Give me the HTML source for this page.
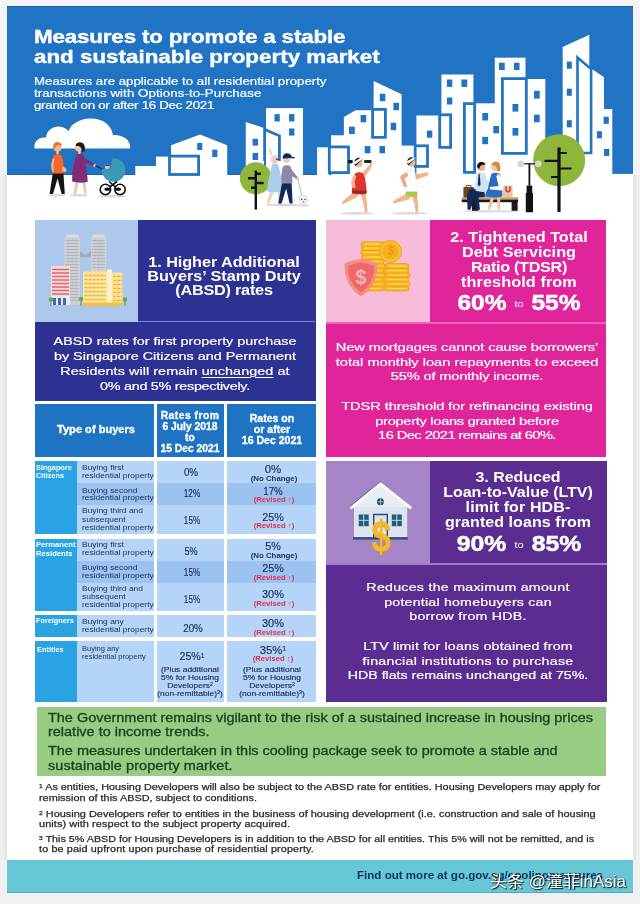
<!DOCTYPE html>
<html lang="en">
<head>
<meta charset="utf-8">
<title>Measures to promote a stable and sustainable property market</title>
<style>
html,body{margin:0;padding:0;}
body{width:640px;height:904px;overflow:hidden;background:#f0eff1;font-family:"Liberation Sans", sans-serif;}
#page{position:relative;width:640px;height:904px;overflow:hidden;background:#f0eff1;filter:blur(0.4px);}
.b{position:absolute;}
.t{position:absolute;white-space:nowrap;margin:0;}
svg{position:absolute;left:0;top:0;}

u{text-decoration-thickness:1px;text-underline-offset:1.5px;}
sup{font-size:62%;line-height:0;vertical-align:baseline;position:relative;top:-0.42em;}
.to{font-size:9.5px;font-weight:400;position:relative;top:-3px;padding:0 1px;-webkit-text-stroke:0;}
</style>
</head>
<body>
<div id="page">
<div class="b" style="left:0;top:0;width:640px;height:176px;background:#f4f3f8;"></div><div class="b" style="left:0;top:175px;width:640px;height:685px;background:linear-gradient(90deg,#eeeeee 0,#eeeeee 4px,#e2e2e2 5px,#e2e2e2 6.5px,#fff 6.6px,#fff 633.2px,#e4e4e4 633.3px,#e6e6e6 636px,#f0f0f0 637px,#f0f0f0 100%);"></div>
<div class="b" style="left:6.5px;top:6.5px;width:626.7px;height:886px;background:#fff;"></div>
<header>
<div class="b" style="left:6.5px;top:6.4px;width:626.7px;height:168.8px;background:#2173c3;box-shadow:inset 0 1px 0 rgba(20,60,110,.45), inset 0 -1px 0 rgba(20,70,130,.35);"></div>
<svg width="640" height="904" viewBox="0 0 640 904" aria-hidden="true">
<g id="skyline" fill="#fff" stroke="none">
<path d="M34.6 148.5 C33.2 142.5 38 136.6 46 137.6 C46.6 130.5 52.5 126.3 59 126.4 C63 126.5 66.6 128.4 68.6 131.2 C71 124 79.5 118.8 90.5 118.6 C102.5 118.4 111.5 125 113 135.2 C116 134.6 119.5 135.4 122.5 136.8 C127.5 138.6 130.6 143 130.1 148.5 Z"/>
<rect x="135.30" y="166.00" width="21.20" height="9.20"/>
<rect x="156.00" y="156.60" width="15.50" height="18.60"/>
<path d="M171 175.2 V145.3 L200 134.6 L227.2 145.3 V175.2 Z"/>
<rect x="169.50" y="156.10" width="29.10" height="18.40" fill="#fff" stroke="#2173c3" stroke-width="2.80"/>
<rect x="197.20" y="142.90" width="5.05" height="7.10" fill="#2173c3"/>
<rect x="212.20" y="149.60" width="5.20" height="7.40" fill="#2173c3"/>
<rect x="266.00" y="108.10" width="37.00" height="67.10"/>
<path d="M245.75 175.2 V121.9 L264 128 V175.2 Z"/>
<path d="M264.6 161 V129.4 L279.4 135.8 V161" fill="#fff" stroke="#2173c3" stroke-width="2.8" stroke-linejoin="miter"/>
<rect x="274.50" y="114.10" width="5.25" height="7.40" fill="#2173c3"/>
<rect x="289.10" y="114.10" width="5.30" height="7.40" fill="#2173c3"/>
<rect x="289.10" y="128.50" width="5.30" height="7.10" fill="#2173c3"/>
<rect x="252.60" y="138.75" width="5.50" height="6.85" fill="#2173c3"/>
<rect x="252.60" y="152.90" width="5.50" height="7.10" fill="#2173c3"/>
<rect x="317.10" y="147.30" width="11.90" height="27.90"/>
<rect x="331.00" y="135.30" width="13.50" height="39.90"/>
<path d="M343.9 175.2 V116.9 L355.6 110.3 H374 V175.2 Z"/>
<path d="M373.6 175.2 V81 L401.6 94.2 V175.2 Z"/>
<rect x="329.30" y="146.90" width="19.20" height="25.70" fill="#fff" stroke="#2173c3" stroke-width="2.80"/>
<rect x="372.60" y="109.40" width="12.80" height="27.95" fill="#fff" stroke="#2173c3" stroke-width="2.80"/>
<rect x="379.80" y="93.75" width="5.50" height="7.50" fill="#2173c3"/>
<rect x="393.40" y="102.80" width="5.60" height="7.40" fill="#2173c3"/>
<rect x="360.60" y="115.00" width="5.60" height="7.30" fill="#2173c3"/>
<rect x="349.00" y="126.60" width="5.80" height="7.40" fill="#2173c3"/>
<rect x="390.75" y="122.70" width="5.45" height="7.50" fill="#2173c3"/>
<rect x="364.70" y="146.10" width="5.70" height="7.20" fill="#2173c3"/>
<rect x="379.50" y="146.10" width="5.50" height="7.20" fill="#2173c3"/>
<rect x="400.60" y="145.60" width="14.40" height="29.60"/>
<rect x="416.40" y="115.50" width="25.60" height="59.70"/>
<rect x="441.40" y="74.50" width="32.00" height="100.70"/>
<rect x="415.15" y="145.80" width="12.35" height="20.60" fill="#fff" stroke="#2173c3" stroke-width="2.80"/>
<rect x="439.70" y="114.80" width="10.90" height="32.55" fill="#fff" stroke="#2173c3" stroke-width="2.80"/>
<rect x="446.90" y="79.50" width="5.40" height="7.40" fill="#2173c3"/>
<rect x="461.40" y="79.50" width="5.80" height="7.40" fill="#2173c3"/>
<rect x="446.90" y="97.50" width="5.40" height="7.00" fill="#2173c3"/>
<rect x="426.90" y="130.60" width="5.40" height="7.10" fill="#2173c3"/>
<rect x="473.00" y="103.30" width="22.50" height="71.90"/>
<rect x="494.80" y="57.70" width="30.70" height="117.50"/>
<rect x="525.00" y="79.00" width="20.30" height="96.20"/>
<rect x="464.40" y="103.60" width="10.20" height="68.75" fill="#fff" stroke="#2173c3" stroke-width="2.80"/>
<rect x="502.40" y="78.60" width="23.90" height="74.80" fill="#fff" stroke="#2173c3" stroke-width="2.80"/>
<rect x="499.00" y="62.70" width="5.70" height="7.30" fill="#2173c3"/>
<rect x="514.00" y="62.70" width="5.50" height="7.30" fill="#2173c3"/>
<rect x="512.50" y="104.00" width="5.80" height="7.60" fill="#2173c3"/>
<rect x="512.50" y="128.00" width="5.80" height="7.60" fill="#2173c3"/>
<rect x="534.00" y="90.80" width="5.70" height="7.80" fill="#2173c3"/>
<rect x="534.00" y="114.70" width="5.70" height="7.60" fill="#2173c3"/>
<rect x="482.30" y="113.00" width="5.80" height="7.50" fill="#2173c3"/>
<rect x="493.30" y="126.00" width="5.70" height="7.30" fill="#2173c3"/>
<rect x="482.30" y="136.90" width="5.80" height="7.30" fill="#2173c3"/>
<path d="M562.7 175.2 V47.1 L589.3 34.7 V175.2 Z"/>
<path d="M589 175.2 V67 L604 77.2 V175.2 Z"/>
<rect x="603.50" y="109.00" width="8.80" height="66.20"/>
<path d="M577.5 154.5 V57.5 L591.1 69 V153 H583" fill="none" stroke="#2173c3" stroke-width="2.6" stroke-linejoin="miter"/>
<rect x="566.80" y="61.60" width="5.00" height="7.10" fill="#2173c3"/>
<rect x="566.80" y="88.70" width="5.00" height="7.10" fill="#2173c3"/>
<rect x="566.80" y="120.20" width="5.00" height="7.10" fill="#2173c3"/>
<rect x="603.60" y="116.70" width="5.20" height="7.10" fill="#2173c3"/>
<rect x="596.90" y="131.20" width="5.00" height="7.10" fill="#2173c3"/>
<rect x="604.00" y="148.90" width="5.30" height="7.10" fill="#2173c3"/>
<rect x="612" y="173.9" width="21.3" height="1.5" fill="#fff"/>
</g>
<!-- ============ shadows ============ -->
<g fill="#d9d9dc">
  <ellipse cx="57" cy="195.3" rx="9" ry="1.3"/><ellipse cx="79" cy="195.3" rx="9" ry="1.3"/><ellipse cx="112" cy="196.3" rx="14" ry="1.2"/>
  <ellipse cx="283" cy="205" rx="17" ry="1.3"/><ellipse cx="304" cy="205.5" rx="6" ry="1"/>
  <ellipse cx="357" cy="213.4" rx="17" ry="1.3"/><ellipse cx="410" cy="213.4" rx="18" ry="1.3"/>
  <ellipse cx="490" cy="211.3" rx="28" ry="1.2" fill="#ead9dc"/>
</g>
<!-- ============ trees ============ -->
<g>
  <circle cx="255.8" cy="178.3" r="16" fill="#8db63a"/>
  <path d="M255.8 170.5 V209.5 M255.8 173.8 H260.8 M248 178.3 H255.8 M255.8 183 H263.6 M251 187.7 H255.8" stroke="#111" stroke-width="2.4" fill="none"/>
  <circle cx="559.2" cy="160.2" r="26" fill="#8db63a"/>
  <path d="M559 147.5 V212" stroke="#111" stroke-width="3.2" fill="none"/>
  <path d="M559 153 H566.8 M544.5 160.8 H559 M559 168.5 H571.5 M551 177 H559" stroke="#111" stroke-width="2.2" fill="none"/>
</g>
<!-- ============ family with pram ============ -->
<g>
  <!-- man -->
  <path d="M52.8 173 L49.6 194 H53 L57.6 178.5 L61.6 194 H64.8 L63.4 173 Z" fill="#141414"/>
  <path d="M53.2 156.5 C54.5 153.6 60.5 153.6 62 156 C63.4 161 64 168 63.6 173.6 H52.4 C51.8 168 52 161 53.2 156.5 Z" fill="#f2672a"/>
  <path d="M53 158 C50.8 163 50.6 168 52.6 172.5 L54 171.5 C53 167.5 53.4 163 54.6 159.5 Z" fill="#f3b78c"/>
  <path d="M62.8 166 L66.8 169.5 L65.6 172.2 L62.2 171 Z" fill="#f3b78c"/>
  <circle cx="57.6" cy="147.6" r="4.1" fill="#f3b78c"/>
  <path d="M53.2 147.6 C52.6 143.6 55.6 141.6 58.4 142.2 C60.8 142.6 62 144.2 61.6 145.6 C59.6 145 57 145.2 55.8 146.6 C55 148 54.6 149 53.8 149.4 Z" fill="#e07a28"/>
  <rect x="56.2" y="151" width="2.6" height="3.2" fill="#f3b78c"/>
  <!-- woman -->
  <path d="M75.4 181 L73.6 194.2 H76 L78.6 182 Z M82.2 181 L84.4 194.2 H86.6 L85.4 181 Z" fill="#f3c6a2"/>
  <path d="M77.2 153.8 C79 152.4 81.6 152.6 82.8 154.2 C85.2 159 87.2 172 87.8 181.8 C83 183 77 183 72.2 181.6 C72 176 72.4 170 73.6 165.5 C74.4 161.4 75.6 156.6 77.2 153.8 Z" fill="#822c78"/>
  <path d="M83 157 L92.8 163 L95.4 165 L94.4 166.6 L84.4 162.4 Z" fill="#822c78"/>
  <circle cx="94.8" cy="165.6" r="1.5" fill="#f3c6a2"/>
  <circle cx="79" cy="147.6" r="4" fill="#f3c6a2"/>
  <path d="M75.6 146 C75.6 142.6 79.6 141.4 82.4 143 C85 144.4 85.4 148 84.6 151.6 L81.6 151.4 C82 149 81 146.6 78.4 146 C77.4 145.8 76.4 146 75.6 146 Z" fill="#1a1a1a"/>
  <rect x="78.2" y="151" width="2.4" height="3" fill="#f3c6a2"/>
  <!-- pram -->
  <path d="M95.4 165.6 L102.4 169.4" stroke="#1b2a5c" stroke-width="1.6" fill="none"/>
  <circle cx="107.4" cy="167" r="2.4" fill="#f3c6a2"/>
  <path d="M105.2 166 C106 164.2 108.8 164.2 109.6 166 Z" fill="#1b2a5c"/>
  <path d="M112.4 158.2 A11.8 11.8 0 1 1 101.8 169.2 L110.4 168.4 Z" fill="#3a9ab4"/>
  <path d="M109 181.5 L118.5 189.5 M117 181.5 L106.5 189.5" stroke="#111" stroke-width="1.6" fill="none"/>
  <circle cx="105.4" cy="189.4" r="5.2" fill="#fff" stroke="#111" stroke-width="1.6"/>
  <circle cx="120" cy="189.4" r="5.2" fill="#fff" stroke="#111" stroke-width="1.6"/>
  <ellipse cx="107.4" cy="189.2" rx="3" ry="1.6" fill="#111"/><ellipse cx="118" cy="189.2" rx="3" ry="1.6" fill="#111"/>
</g>
<!-- ============ elderly couple + dog ============ -->
<g>
  <!-- woman -->
  <path d="M270.4 190 L266.4 204.4 H269 L274 191.5 Z M277.6 190.5 L278.8 204.4 H281 L281 190.5 Z" fill="#ecd2c2"/>
  <path d="M272.4 164.4 C274.4 163 276.8 163.2 278.2 165 C280.4 171 282 183 282.4 191.4 C277.6 192.8 271.4 192.6 266.8 191 C268 182.5 269.8 171.5 272.4 164.4 Z" fill="#a9cdea"/>
  <circle cx="274.6" cy="159.6" r="3.7" fill="#efc9ad"/>
  <path d="M271 160.5 C270 156.4 273 154.4 276 155.2 C278 155.8 278.6 157 278.4 158 C276.6 157.6 274.4 158 273.4 159.4 Z" fill="#dcdde6"/>
  <path d="M276 158.6 H279.4 V160 H276 Z" fill="#b3273a"/>
  <path d="M270.6 155 L268.8 148.6 L270.2 148.2 L272.4 154.6 Z" fill="#efc9ad"/>
  <!-- man -->
  <path d="M282.2 182 L278.2 203.6 H281.6 L286.2 188.6 L289.6 203.6 H292.6 L291.6 182 Z" fill="#15285a"/>
  <path d="M283 166.6 C285 164.6 289.6 164.8 291 167 C292.4 172 292.6 178.4 292.2 183.4 H281.4 C280.8 178 281.4 171.4 283 166.6 Z" fill="#8b88a8"/>
  <path d="M290.6 168.6 L298 177.6 L296.8 179.2 L289.8 174.6 Z" fill="#8b88a8"/>
  <circle cx="297.8" cy="178.8" r="1.4" fill="#efc9ad"/>
  <circle cx="286.6" cy="159" r="3.8" fill="#efc9ad"/>
  <path d="M282.6 158.4 C282.4 154.6 285.6 152.8 288.4 153.4 C290.6 153.8 291.6 155.4 291.6 156.8 L294.8 157.2 V158.2 L282.6 158.4 Z" fill="#15285a"/>
  <path d="M288 158.4 H291.6 V160 H288 Z" fill="#dfe2ea"/>
  <!-- leash and dog -->
  <path d="M297.8 179.6 L302 196.4" stroke="#9a9aa6" stroke-width="0.7" fill="none"/>
  <path d="M299.6 196.4 C301 194.6 305.6 194.4 307 196.6 C308 199.6 307 202.6 305.6 204 H300.8 C299 202.6 298.6 199 299.6 196.4 Z" fill="#f1f1f4" stroke="#c9c9d0" stroke-width="0.5"/>
  <circle cx="301.6" cy="199.4" r="0.7" fill="#222"/><circle cx="305" cy="199.4" r="0.7" fill="#222"/>
  <path d="M302.4 201.4 H304.4 L303.4 202.6 Z" fill="#222"/>
</g>
<!-- ============ runners ============ -->
<g>
  <!-- woman runner -->
  <path d="M355 191 L343.6 200.4 L341.8 203.2 L343.4 204 L356.6 197.4 L361 192 Z" fill="#f0b58c"/>
  <path d="M360 191.6 L363.6 204 L365 212.6 H367.6 L367 203 L365.6 191 Z" fill="#f0b58c"/>
  <path d="M354.6 174 C357 171.6 362.6 171.8 364.2 174.4 C365.6 180 366.4 187 366.6 192.4 C362.4 193.4 356.4 193.2 351.8 192 C352 186 353 179 354.6 174 Z" fill="#e4322c"/>
  <path d="M352.2 190.4 H366.6 V193.4 C362 194.6 356.4 194.4 352 193.4 Z" fill="#a3222a"/>
  <path d="M354.4 174.4 C351.4 178 350.2 183 352.4 187.6 L354.8 188.2 L355.6 186.6 C354 183 354.6 179.4 356.6 176.4 Z" fill="#f0b58c"/>
  <path d="M362.6 172.6 L368.6 166 L370.6 162.6 L372.4 163.6 L371 168 L365 176.6 Z" fill="#f0b58c"/>
  <circle cx="358.6" cy="163" r="4" fill="#f0b58c"/>
  <path d="M354.4 164.4 C353.6 160 356.4 157.4 359.6 157.8 C361 158 362 158.6 362.4 159.4 L355.6 166 Z" fill="#151515"/>
  <path d="M353.4 162.2 L361 157.6 L362.2 159.4 L355 164.6 Z" fill="#fff"/>
  <ellipse cx="350.4" cy="161.6" rx="2.6" ry="1.9" fill="#151515"/>
  <rect x="364" y="160" width="7.6" height="3" rx="1.2" fill="#22232b"/>
  <!-- man runner -->
  <path d="M407 193.6 L394.6 200 L392.6 202.6 L394 203.6 L408.6 199.6 L413 195 Z" fill="#f0b58c"/>
  <path d="M411.4 195 L414.6 204 L415.6 212.6 H418.2 L418 203 L417 194.6 Z" fill="#f0b58c"/>
  <path d="M405.6 193 L406.2 191 H417.2 L417.4 196.2 C413.6 197 409 196.6 405.6 195.6 Z" fill="#a9c63c"/>
  <path d="M406.6 171.6 C409 169.6 413.6 169.8 415 172 C416.4 178 417.2 185 417.4 191.4 H406 C405.6 185 405.8 177 406.6 171.6 Z" fill="#fdfdfd" stroke="#e6e6ea" stroke-width="0.5"/>
  <path d="M406.8 172 L401 175.6 L400.2 177.6 L403.8 186.6 L406.2 187.4 L407 185.4 L404.4 178.4 L408.2 176 Z" fill="#e9a983"/>
  <path d="M415 174.6 L426.6 172.2 L428.4 173.2 L427.6 175.4 L416 179.6 Z" fill="#f0b58c"/>
  <circle cx="411.4" cy="162.4" r="4" fill="#f0b58c"/>
  <path d="M407.2 163.8 C406.4 159.4 409.2 156.8 412.4 157.2 C413.8 157.4 414.8 158 415.2 158.8 L408.4 165.4 Z" fill="#151515"/>
  <path d="M406.6 161.6 L414 157 L415.2 158.8 L408 164 Z" fill="#fff"/>
</g>
<!-- ============ bench couple + lamp ============ -->
<g>
  <rect x="461.7" y="197.2" width="56.4" height="2.6" fill="#c9a15f"/>
  <rect x="461.7" y="199.6" width="56.4" height="2.6" fill="#1d1a18"/>
  <rect x="472" y="202" width="6.6" height="8.8" fill="#1d1a18"/>
  <rect x="511.6" y="202" width="6" height="8.8" fill="#1d1a18"/>
  <!-- briefcase -->
  <rect x="463.4" y="187" width="10.4" height="10.4" rx="0.8" fill="#6b4a1c"/>
  <path d="M466.4 187 V185.4 H471 V187" stroke="#6b4a1c" stroke-width="0.9" fill="none"/>
  <!-- bag -->
  <path d="M503.4 185.4 H512.6 V197.2 H503 Z" fill="#e9c8a0"/>
  <path d="M506 186.6 V189.6 C506 192.4 510 192.4 510 189.6 V186.6" stroke="#d13a2c" stroke-width="1.5" fill="none"/>
  <!-- man -->
  <path d="M468.4 190.4 C472 188 480 188.6 484.4 190.6 L485 197 L478.6 197.6 L480 209.8 H476.4 L474 199.6 L470.4 209.8 H467.6 L467 196 Z" fill="#15285a"/>
  <path d="M477 173.6 C479.4 171.8 484.4 172 485.8 174.4 C487 180 487 186.4 486.4 191.6 C483 192.4 478.4 192 475.4 190.6 C475.2 184.6 475.8 178 477 173.6 Z" fill="#cfe2f4"/>
  <path d="M479.6 173.6 L480.6 184.6 L479 186.6 L477.8 184.4 L478.6 174 Z" fill="#15285a"/>
  <path d="M485 176 L491 186.6 L489.4 188.2 L483.4 182 Z" fill="#cfe2f4"/>
  <circle cx="481.4" cy="167" r="3.9" fill="#e9b18a"/>
  <path d="M477.2 167.6 C476.4 163.4 479.6 161.4 482.6 162 C484.6 162.4 485.6 163.8 485.4 165 C483.4 164.6 481 165 480 166.6 L479.2 169 Z" fill="#151515"/>
  <!-- woman -->
  <path d="M491 196.4 L487.6 209.4 H490 L494.6 197 Z M497 197 L497.6 209.4 H500 L500.4 196.6 Z" fill="#f0c4a4"/>
  <path d="M491.4 174 C493.6 172.2 498.4 172.4 500 174.6 C502 181 502.6 190 502.4 196.6 C497.6 198 490 197.8 485 196.4 C485.4 193.4 486.4 190.6 488 188.4 C489 183 490 178 491.4 174 Z" fill="#2a6cc2"/>
  <path d="M497.6 174 C500.4 175 501.6 178 502 182 L502.4 190.6 L490 189.4 L489.8 187 L498.6 186 L496.4 176.6 Z" fill="#fdfdfd"/>
  <circle cx="495" cy="167" r="3.9" fill="#f0c4a4"/>
  <path d="M491.6 165 C492 161.6 495.6 160.6 498 162 C500.4 163.4 500.8 167 500 171.4 L497 171 C497.4 168.4 496.6 166 494.2 165.4 C493.2 165.2 492.4 165.2 491.6 165 Z" fill="#d88a3c"/>
  <!-- lamp -->
  <path d="M521 163.8 H538.4" stroke="#111" stroke-width="1.2" fill="none"/>
  <rect x="528.5" y="163.5" width="1.8" height="22" fill="#111"/>
  <path d="M526.6 185.4 H532.2 V193 H533 V212.2 H525.8 V193 H526.6 Z" fill="#111"/>
  <circle cx="521" cy="163.8" r="3.4" fill="#d4d6d8"/>
  <circle cx="538.3" cy="163.8" r="3.4" fill="#d4d6d8"/>
</g>

</svg>
<h1 class="t" style="left:34.00px;top:27.20px;font-size:18.6px;line-height:20.3px;color:#fff;transform:scaleX(1.2034);transform-origin:0 0;font-weight:700;-webkit-text-stroke:0.4px #fff;"><span style="letter-spacing:-0.135px">Measures to promote a stable</span><br>and sustainable property market</h1>
<p class="t" style="left:34.00px;top:74.67px;font-size:11.2px;line-height:12.1px;color:#fff;transform:scaleX(1.1847);transform-origin:0 0;-webkit-text-stroke:0.2px #fff;">Measures are applicable to all residential property<br><span style="letter-spacing:0.081px">transactions with Options-to-Purchase</span><br><span style="letter-spacing:-0.215px">granted on or after 16 Dec 2021</span></p>
</header>
<main>
<section class="absd">
<div class="b" style="left:34.5px;top:220.4px;width:281px;height:181px;background:#2c3192;"></div>
<div class="b" style="left:34.5px;top:220.4px;width:103.2px;height:101.6px;background:#acc8eb;"></div>
<div class="b" style="left:137.7px;top:321.1px;width:177.8px;height:1.1px;background:#7c83de;"></div>
<svg width="640" height="904" viewBox="0 0 640 904" aria-hidden="true">
<!-- ============ panel 1 icon: buildings ============ -->
<g>
  <!-- grey twin towers -->
  <rect x="64.5" y="237" width="15.5" height="68" fill="#cfd1d8"/>
  <rect x="66" y="234.5" width="12.5" height="3" fill="#d9dbe0"/>
  <rect x="91" y="237" width="15" height="40" fill="#cfd1d8"/>
  <rect x="92.5" y="234.5" width="12" height="3" fill="#d9dbe0"/>
  <path d="M80 251 L85.5 255 L91 251 V257 H80 Z" fill="#a6a9b2"/>
  <g stroke="#9a9eaa" stroke-width="0.6" fill="none">
    <path d="M65.5 240.5H79M65.5 243.5H79M65.5 246.5H79M65.5 249.5H79M65.5 252.5H79M65.5 255.5H79M65.5 258.5H79M65.5 261.5H79M65.5 264.5H79M70 267.5H79M70 270.5H79M70 273.5H79M70 276.5H79M70 279.5H79M70 282.5H79M70 285.5H79M70 288.5H79M70 291.5H79M70 294.5H79M70 297.5H79M70 300.5H79"/>
    <path d="M92 240.5H105M92 243.5H105M92 246.5H105M92 249.5H105M92 252.5H105M92 255.5H105M92 258.5H105M92 261.5H105M92 264.5H105M92 267.5H105"/>
  </g>
  <g stroke="#b4b7c0" stroke-width="0.5" fill="none"><path d="M68.5 238V305M72.3 238V305M76.100 238V305M95 238V272M98.500 238V272M102 238V272"/></g>
  <!-- pink building -->
  <rect x="51" y="266" width="19" height="34" fill="#f6dadb"/>
  <g stroke="#e06670" stroke-width="1.3" fill="none">
    <path d="M52 269.5H69M52 273H69M52 276.5H69M52 280H69M52 283.5H69M52 287H69M52 290.5H69M52 294H69"/>
  </g>
  <rect x="51" y="296.5" width="19" height="8.5" fill="#e9edf3"/>
  <rect x="53" y="298" width="3" height="7" fill="#3a6bb0"/><rect x="58" y="298" width="3" height="7" fill="#3a6bb0"/><rect x="63" y="298" width="3" height="7" fill="#3a6bb0"/>
  <!-- yellow building -->
  <rect x="83" y="271.5" width="24" height="34.5" fill="#fbe49a"/>
  <rect x="107" y="269.5" width="5" height="36.5" fill="#fbf1cf"/>
  <rect x="112" y="272.5" width="10.5" height="33.5" fill="#fbe49a"/>
  <g stroke="#efb73a" stroke-width="1.3" fill="none" stroke-dasharray="3.2 0.8">
    <path d="M84.5 275.5H106M84.5 279.5H106M84.5 283.5H106M84.5 287.5H106M84.5 291.5H106M84.5 295.5H106M84.5 299.5H106"/>
    <path d="M113 276.5H122M113 280.5H122M113 284.5H122M113 288.5H122M113 292.5H122M113 296.5H122M113 300.5H122"/>
  </g>
  <g stroke="#fdf3cf" stroke-width="0.5" fill="none">
    <path d="M84.5 277.5H106M84.5 281.5H106M84.5 285.5H106M84.5 289.5H106M84.5 293.5H106M84.5 297.5H106"/>
  </g>
  <rect x="83" y="302.5" width="39.5" height="3.5" fill="#f3c145"/>
  <!-- trees -->
  <g fill="#5fb04a">
    <circle cx="51" cy="299.5" r="2.3"/><circle cx="81" cy="299" r="2.3"/><circle cx="125" cy="299.5" r="2.3"/>
  </g>
  <g stroke="#7a5a2a" stroke-width="0.7"><path d="M51 301V306M81 301V306M125 301V306"/></g>
</g>
</svg>
<h2 class="t" style="left:224.30px;top:254.55px;font-size:15px;line-height:14.3px;text-align:center;color:#fff;transform:translateX(-50%) scaleX(1.0838);transform-origin:50% 0;font-weight:700;"><span style="letter-spacing:-0.076px">1. Higher Additional</span><br>Buyers’ Stamp Duty<br><span style="letter-spacing:-0.222px">(ABSD) rates</span></h2>
<p class="t" style="left:174.90px;top:334.40px;font-size:11.4px;line-height:14.7px;text-align:center;color:#fff;transform:translateX(-50%) scaleX(1.2621);transform-origin:50% 0;-webkit-text-stroke:0.2px #fff;">ABSD rates for first property purchase<br>by Singapore Citizens and Permanent<br><span style="letter-spacing:0.054px">Residents will remain <u>unchanged</u> at</span><br><span style="letter-spacing:-0.226px">0% and 5% respectively.</span></p>
<div class="rates">
<div class="b" style="left:34.5px;top:403.8px;width:119.5px;height:52.9px;background:#1e73c3;"></div>
<div class="b" style="left:157.3px;top:403.8px;width:66.6px;height:52.9px;background:#1e73c3;"></div>
<div class="b" style="left:226.8px;top:403.8px;width:88.8px;height:52.9px;background:#1e73c3;"></div>
<div class="b" style="left:34.5px;top:461.2px;width:42px;height:72.5px;background:#29a3e1;"></div>
<div class="b" style="left:76.5px;top:461.2px;width:77.5px;height:72.5px;background:#b4d5f8;"></div>
<div class="b" style="left:76.5px;top:483px;width:77.5px;height:22.3px;background:#9cc3f0;"></div>
<div class="b" style="left:157.3px;top:461.2px;width:66.6px;height:72.5px;background:#b4d5f8;"></div>
<div class="b" style="left:157.3px;top:483px;width:66.6px;height:22.3px;background:#9cc3f0;"></div>
<div class="b" style="left:226.8px;top:461.2px;width:88.8px;height:72.5px;background:#b4d5f8;"></div>
<div class="b" style="left:226.8px;top:483px;width:88.8px;height:22.3px;background:#9cc3f0;"></div>
<div class="b" style="left:34.5px;top:538.6px;width:42px;height:72.9px;background:#29a3e1;"></div>
<div class="b" style="left:76.5px;top:538.6px;width:77.5px;height:72.9px;background:#b4d5f8;"></div>
<div class="b" style="left:76.5px;top:560.5px;width:77.5px;height:22px;background:#9cc3f0;"></div>
<div class="b" style="left:157.3px;top:538.6px;width:66.6px;height:72.9px;background:#b4d5f8;"></div>
<div class="b" style="left:157.3px;top:560.5px;width:66.6px;height:22px;background:#9cc3f0;"></div>
<div class="b" style="left:226.8px;top:538.6px;width:88.8px;height:72.9px;background:#b4d5f8;"></div>
<div class="b" style="left:226.8px;top:560.5px;width:88.8px;height:22px;background:#9cc3f0;"></div>
<div class="b" style="left:34.5px;top:615.3px;width:42px;height:21.5px;background:#29a3e1;"></div>
<div class="b" style="left:76.5px;top:615.3px;width:77.5px;height:21.5px;background:#b4d5f8;"></div>
<div class="b" style="left:157.3px;top:615.3px;width:66.6px;height:21.5px;background:#b4d5f8;"></div>
<div class="b" style="left:226.8px;top:615.3px;width:88.8px;height:21.5px;background:#b4d5f8;"></div>
<div class="b" style="left:34.5px;top:641px;width:42px;height:61.3px;background:#29a3e1;"></div>
<div class="b" style="left:76.5px;top:641px;width:77.5px;height:61.3px;background:#b4d5f8;"></div>
<div class="b" style="left:157.3px;top:641px;width:66.6px;height:61.3px;background:#b4d5f8;"></div>
<div class="b" style="left:226.8px;top:641px;width:88.8px;height:61.3px;background:#b4d5f8;"></div>
<div class="t" style="left:96.00px;top:423.83px;font-size:10px;line-height:12px;text-align:center;color:#fff;transform:translateX(-50%) scaleX(1.1081);transform-origin:50% 0;font-weight:700;-webkit-text-stroke:0.3px #fff;">Type of buyers</div>
<div class="t" style="left:190.40px;top:409.81px;font-size:10px;line-height:11.05px;text-align:center;color:#fff;transform:translateX(-50%) scaleX(1.0300);transform-origin:50% 0;font-weight:700;-webkit-text-stroke:0.3px #fff;"><span style="letter-spacing:0.474px">Rates from</span><br>6 July 2018<br>to<br>15 Dec 2021</div>
<div class="t" style="left:272.00px;top:413.78px;font-size:10px;line-height:10.9px;text-align:center;color:#fff;transform:translateX(-50%) scaleX(1.0527);transform-origin:50% 0;font-weight:700;-webkit-text-stroke:0.3px #fff;">Rates on<br>or after<br>16 Dec 2021</div>
<div class="t" style="left:36.25px;top:463.92px;font-size:7.6px;line-height:8.1px;color:#fff;transform:scaleX(0.9626);transform-origin:0 0;font-weight:700;">Singapore<br>Citizens</div>
<div class="t" style="left:35.50px;top:541.37px;font-size:7.6px;line-height:8.2px;color:#fff;transform:scaleX(1.0064);transform-origin:0 0;font-weight:700;">Permanent<br>Residents</div>
<div class="t" style="left:36.00px;top:616.87px;font-size:7.6px;line-height:8.2px;color:#fff;transform:scaleX(0.9618);transform-origin:0 0;font-weight:700;">Foreigners</div>
<div class="t" style="left:36.50px;top:645.62px;font-size:7.6px;line-height:8.2px;color:#fff;transform:scaleX(0.9749);transform-origin:0 0;font-weight:700;">Entities</div>
<div class="t" style="left:82.00px;top:463.78px;font-size:7.7px;line-height:7.9px;color:#1b2a5c;transform:scaleX(1.0973);transform-origin:0 0;">Buying first<br>residential property</div>
<div class="t" style="left:82.00px;top:486.58px;font-size:7.7px;line-height:7.9px;color:#1b2a5c;transform:scaleX(1.0973);transform-origin:0 0;">Buying second<br>residential property</div>
<div class="t" style="left:82.00px;top:507.36px;font-size:7.7px;line-height:8.15px;color:#1b2a5c;transform:scaleX(1.0973);transform-origin:0 0;">Buying third and<br>subsequent<br>residential property</div>
<div class="t" style="left:82.00px;top:541.48px;font-size:7.7px;line-height:7.9px;color:#1b2a5c;transform:scaleX(1.0973);transform-origin:0 0;">Buying first<br>residential property</div>
<div class="t" style="left:82.00px;top:563.93px;font-size:7.7px;line-height:8.0px;color:#1b2a5c;transform:scaleX(1.0973);transform-origin:0 0;">Buying second<br>residential property</div>
<div class="t" style="left:82.00px;top:584.93px;font-size:7.7px;line-height:8.0px;color:#1b2a5c;transform:scaleX(1.0973);transform-origin:0 0;">Buying third and<br>subsequent<br>residential property</div>
<div class="t" style="left:82.00px;top:617.68px;font-size:7.7px;line-height:8.0px;color:#1b2a5c;transform:scaleX(1.0973);transform-origin:0 0;">Buying any<br>residential property</div>
<div class="t" style="left:82.00px;top:644.85px;font-size:7.2px;line-height:8.0px;color:#1b2a5c;transform:scaleX(1.0427);transform-origin:0 0;">Buying any<br>residential property</div>
<div class="t" style="left:191.30px;top:466.42px;font-size:10.6px;line-height:13px;text-align:center;color:#1b2a5c;transform:translateX(-50%) scaleX(0.9273);transform-origin:50% 0;-webkit-text-stroke:0.15px #1b2a5c;">0%</div>
<div class="t" style="left:191.80px;top:487.02px;font-size:10.6px;line-height:13px;text-align:center;color:#1b2a5c;transform:translateX(-50%) scaleX(0.7782);transform-origin:50% 0;-webkit-text-stroke:0.15px #1b2a5c;">12%</div>
<div class="t" style="left:191.60px;top:514.42px;font-size:10.6px;line-height:13px;text-align:center;color:#1b2a5c;transform:translateX(-50%) scaleX(0.7688);transform-origin:50% 0;-webkit-text-stroke:0.15px #1b2a5c;">15%</div>
<div class="t" style="left:191.30px;top:544.72px;font-size:10.6px;line-height:13px;text-align:center;color:#1b2a5c;transform:translateX(-50%) scaleX(0.8620);transform-origin:50% 0;-webkit-text-stroke:0.15px #1b2a5c;">5%</div>
<div class="t" style="left:191.60px;top:566.42px;font-size:10.6px;line-height:13px;text-align:center;color:#1b2a5c;transform:translateX(-50%) scaleX(0.7688);transform-origin:50% 0;-webkit-text-stroke:0.15px #1b2a5c;">15%</div>
<div class="t" style="left:191.60px;top:592.72px;font-size:10.6px;line-height:13px;text-align:center;color:#1b2a5c;transform:translateX(-50%) scaleX(0.7688);transform-origin:50% 0;-webkit-text-stroke:0.15px #1b2a5c;">15%</div>
<div class="t" style="left:192.80px;top:621.62px;font-size:10.6px;line-height:13px;text-align:center;color:#1b2a5c;transform:translateX(-50%) scaleX(0.9244);transform-origin:50% 0;-webkit-text-stroke:0.15px #1b2a5c;">20%</div>
<div class="t" style="left:192.20px;top:650.42px;font-size:10.6px;line-height:13px;text-align:center;color:#1b2a5c;transform:translateX(-50%) scaleX(1.0057);transform-origin:50% 0;-webkit-text-stroke:0.15px #1b2a5c;">25%<sup>1</sup></div>
<div class="t" style="left:190.20px;top:665.73px;font-size:7.4px;line-height:8.0px;text-align:center;color:#1b2a5c;transform:translateX(-50%) scaleX(1.1454);transform-origin:50% 0;-webkit-text-stroke:0.15px #1b2a5c;">(Plus additional<br>5% for Housing<br>Developers<sup>2</sup><br>(non-remittable)<sup>3</sup>)</div>
<div class="t" style="left:273.40px;top:463.09px;font-size:11px;line-height:13px;text-align:center;color:#1b2a5c;transform:translateX(-50%) scaleX(1.0373);transform-origin:50% 0;-webkit-text-stroke:0.15px #1b2a5c;">0%</div>
<div class="t" style="left:273.50px;top:474.57px;font-size:7px;line-height:8px;text-align:center;color:#1b2a5c;transform:translateX(-50%) scaleX(1.1199);transform-origin:50% 0;font-weight:700;">(No Change)</div>
<div class="t" style="left:273.40px;top:484.79px;font-size:11px;line-height:13px;text-align:center;color:#1b2a5c;transform:translateX(-50%) scaleX(0.8851);transform-origin:50% 0;-webkit-text-stroke:0.15px #1b2a5c;">17%</div>
<div class="t" style="left:273.50px;top:496.47px;font-size:7px;line-height:8px;text-align:center;color:#e62c50;transform:translateX(-50%) scaleX(1.0955);transform-origin:50% 0;font-weight:700;">(Revised ↑)</div>
<div class="t" style="left:273.40px;top:510.59px;font-size:11px;line-height:13px;text-align:center;color:#1b2a5c;transform:translateX(-50%) scaleX(0.9759);transform-origin:50% 0;-webkit-text-stroke:0.15px #1b2a5c;">25%</div>
<div class="t" style="left:273.50px;top:521.77px;font-size:7px;line-height:8px;text-align:center;color:#e62c50;transform:translateX(-50%) scaleX(1.0955);transform-origin:50% 0;font-weight:700;">(Revised ↑)</div>
<div class="t" style="left:273.40px;top:540.39px;font-size:11px;line-height:13px;text-align:center;color:#1b2a5c;transform:translateX(-50%) scaleX(0.9745);transform-origin:50% 0;-webkit-text-stroke:0.15px #1b2a5c;">5%</div>
<div class="t" style="left:273.50px;top:551.87px;font-size:7px;line-height:8px;text-align:center;color:#1b2a5c;transform:translateX(-50%) scaleX(1.1199);transform-origin:50% 0;font-weight:700;">(No Change)</div>
<div class="t" style="left:273.40px;top:562.09px;font-size:11px;line-height:13px;text-align:center;color:#1b2a5c;transform:translateX(-50%) scaleX(0.9759);transform-origin:50% 0;-webkit-text-stroke:0.15px #1b2a5c;">25%</div>
<div class="t" style="left:273.50px;top:573.87px;font-size:7px;line-height:8px;text-align:center;color:#e62c50;transform:translateX(-50%) scaleX(1.0955);transform-origin:50% 0;font-weight:700;">(Revised ↑)</div>
<div class="t" style="left:273.40px;top:588.39px;font-size:11px;line-height:13px;text-align:center;color:#1b2a5c;transform:translateX(-50%) scaleX(0.9986);transform-origin:50% 0;-webkit-text-stroke:0.15px #1b2a5c;">30%</div>
<div class="t" style="left:273.50px;top:599.67px;font-size:7px;line-height:8px;text-align:center;color:#e62c50;transform:translateX(-50%) scaleX(1.0955);transform-origin:50% 0;font-weight:700;">(Revised ↑)</div>
<div class="t" style="left:273.40px;top:617.39px;font-size:11px;line-height:13px;text-align:center;color:#1b2a5c;transform:translateX(-50%) scaleX(0.9986);transform-origin:50% 0;-webkit-text-stroke:0.15px #1b2a5c;">30%</div>
<div class="t" style="left:273.50px;top:629.27px;font-size:7px;line-height:8px;text-align:center;color:#e62c50;transform:translateX(-50%) scaleX(1.0955);transform-origin:50% 0;font-weight:700;">(Revised ↑)</div>
<div class="t" style="left:273.00px;top:644.09px;font-size:11px;line-height:13px;text-align:center;color:#1b2a5c;transform:translateX(-50%) scaleX(1.0260);transform-origin:50% 0;-webkit-text-stroke:0.15px #1b2a5c;">35%<sup>1</sup></div>
<div class="t" style="left:272.50px;top:655.07px;font-size:7px;line-height:8px;text-align:center;color:#e62c50;transform:translateX(-50%) scaleX(1.0955);transform-origin:50% 0;font-weight:700;">(Revised ↑)</div>
<div class="t" style="left:272.30px;top:665.83px;font-size:7.4px;line-height:8.0px;text-align:center;color:#1b2a5c;transform:translateX(-50%) scaleX(1.1454);transform-origin:50% 0;-webkit-text-stroke:0.15px #1b2a5c;">(Plus additional<br>5% for Housing<br>Developers<sup>2</sup><br>(non-remittable)<sup>3</sup>)</div>
</div>
</section>
<section class="tdsr">
<div class="b" style="left:326.3px;top:220.4px;width:280px;height:236.3px;background:#e0259b;"></div>
<div class="b" style="left:326.3px;top:220.4px;width:103.3px;height:101.6px;background:#f6bcd9;"></div>
<div class="b" style="left:326.3px;top:322px;width:279.9px;height:1.6px;background:#f95ebf;"></div>
<svg width="640" height="904" viewBox="0 0 640 904" aria-hidden="true">
<!-- ============ panel 2 icon: coins + shield ============ -->
<g>
  <g fill="#f7b928" stroke="#e89a12" stroke-width="0.7">
    <g id="stackL">
      <rect x="360.5" y="286" width="23.5" height="5" rx="2.4"/><rect x="361.5" y="281.5" width="23.5" height="5" rx="2.4"/><rect x="360.5" y="277" width="23.5" height="5" rx="2.4"/>
      <rect x="361.5" y="272.5" width="23.5" height="5" rx="2.4"/><rect x="360.5" y="268" width="23.5" height="5" rx="2.4"/><rect x="361.5" y="263.500" width="23.5" height="5" rx="2.4"/>
      <rect x="360.5" y="259" width="23.5" height="5" rx="2.4"/><rect x="361.5" y="254.5" width="23.5" height="5" rx="2.4"/><rect x="360.5" y="250" width="23.5" height="5" rx="2.4"/>
      <rect x="361.500" y="245.5" width="23.5" height="5" rx="2.4"/><rect x="361" y="241.8" width="23.5" height="4.6" rx="2.3"/>
    </g>
    <g id="stackR">
      <rect x="384" y="286" width="25" height="5" rx="2.4"/><rect x="385" y="281.5" width="25" height="5" rx="2.4"/><rect x="384" y="277" width="25" height="5" rx="2.4"/>
      <rect x="385" y="272.5" width="25" height="5" rx="2.4"/><rect x="384" y="268" width="25" height="5" rx="2.4"/><rect x="385" y="263.500" width="24" height="5" rx="2.4"/>
    </g>
  </g>
  <g stroke="#ffdc55" stroke-width="1.1" fill="none"><path d="M364 288.500H380M365 284H381M364 279.500H380M365 275H381M364 270.500H380M365 266H381M364 261.500H380M365 257H381M364 252.500H380M365 248H381M365 244H380"/><path d="M388 288.500H406M389 284H407M388 279.500H406M389 275H407M388 270.500H406M389 266H406"/></g>
  <circle cx="390.5" cy="251.500" r="11" fill="#f9c12e" stroke="#e89a12" stroke-width="0.8"/>
  <circle cx="390.5" cy="251.500" r="8" fill="#f5ae1e"/>
  <path d="M361 259 C355 259.500 349.500 261 344.500 263.500 C344 277 349.500 289.500 361 296.500 C372.500 289.500 378 277 377.500 263.500 C372.500 261 367 259.500 361 259 Z" fill="#f58d83"/>
  <path d="M361 262.500 C356.500 263 352 264 348 266 C347.500 276.500 352 286.500 361 292.500 C370 286.500 374.500 276.500 374 266 C370 264 365.500 263 361 262.500 Z" fill="#ef6767"/>
</g>
</svg>
<div class="t" style="left:361.00px;top:266.32px;font-size:21px;line-height:22px;text-align:center;color:#f9b9b6;transform:translateX(-50%) scaleX(0.9412);transform-origin:50% 0;font-weight:700;">$</div>
<div class="t" style="left:390.50px;top:245.14px;font-size:12px;line-height:13px;text-align:center;color:#e9971a;transform:translateX(-50%) scaleX(0.8972);transform-origin:50% 0;font-weight:700;">$</div>
<h2 class="t" style="left:518.80px;top:230.06px;font-size:15px;line-height:14.87px;text-align:center;color:#fff;transform:translateX(-50%) scaleX(1.0831);transform-origin:50% 0;font-weight:700;">2. Tightened Total<br><span style="letter-spacing:0.026px">Debt Servicing</span><br><span style="letter-spacing:-0.307px">Ratio (TDSR)</span><br><span style="letter-spacing:0.077px">threshold from</span></h2>
<div class="t" style="left:519.30px;top:291.25px;font-size:21.5px;line-height:24px;text-align:center;color:#fff;transform:translateX(-50%) scaleX(1.1401);transform-origin:50% 0;font-weight:700;-webkit-text-stroke:0.5px #fff;">60% <span class="to">to</span> 55%</div>
<p class="t" style="left:467.30px;top:339.77px;font-size:11.4px;line-height:14.75px;text-align:center;color:#fff;transform:translateX(-50%) scaleX(1.2840);transform-origin:50% 0;-webkit-text-stroke:0.2px #fff;"><span style="letter-spacing:-0.072px">New mortgages cannot cause borrowers’</span><br>total monthly loan repayments to exceed<br><span style="letter-spacing:-0.127px">55% of monthly income.</span><br>&nbsp;<br><span style="letter-spacing:-0.057px">TDSR threshold for refinancing existing</span><br><span style="letter-spacing:-0.223px">property loans granted before</span><br><span style="letter-spacing:-0.430px">16 Dec 2021 remains at 60%.</span></p>
</section>
<section class="ltv">
<div class="b" style="left:326.3px;top:460.7px;width:280.4px;height:241.1px;background:#5c2d91;"></div>
<div class="b" style="left:326.3px;top:460.7px;width:103.9px;height:102.8px;background:#a685c6;"></div>
<div class="b" style="left:326.3px;top:563.4px;width:280.4px;height:1.5px;background:#a877d6;"></div>
<svg width="640" height="904" viewBox="0 0 640 904" aria-hidden="true">
<!-- ============ panel 3 icon: house ============ -->
<g>
  <path d="M354 507 H407.200 V537.600 H354 Z" fill="#dde4ee"/>
  <path d="M354 507 L380.500 485.500 L407.200 507 Z" fill="#e9eef5"/>
  <path d="M350.900 506.400 L380.300 482.300" fill="none" stroke="#2c4a7c" stroke-width="1.600" stroke-linecap="round"/>
  <path d="M351.400 507.600 L380.400 484 L410.300 507.600" fill="none" stroke="#fdfdfd" stroke-width="3" stroke-linejoin="miter" stroke-linecap="round"/>
  <rect x="353" y="537.200" width="54.800" height="2.300" fill="#2c4a7c"/>
  <circle cx="380.400" cy="501.800" r="3.500" fill="#1f4e79"/>
  <path d="M377.400 501.800 H383.400 M380.400 498.800 V504.800" stroke="#dde4ee" stroke-width="0.700"/>
  <rect x="358.700" y="514.500" width="10" height="11.700" fill="#1f5d7a"/>
  <path d="M363.700 514.500 V526.200 M358.700 520.300 H368.700" stroke="#dde4ee" stroke-width="0.900"/>
  <rect x="391.800" y="514.500" width="10" height="11.700" fill="#1f5d7a"/>
  <path d="M396.800 514.500 V526.200 M391.800 520.300 H401.800" stroke="#dde4ee" stroke-width="0.900"/>
  <path d="M373.700 537 V514.500 H387.300 V537" fill="none" stroke="#2c4a7c" stroke-width="1.400"/>
</g>
</svg>
<div class="t" style="left:380.60px;top:513.64px;font-size:44.3px;line-height:46px;text-align:center;color:#f7b825;transform:translateX(-50%) scaleX(0.7954);transform-origin:50% 0;font-weight:700;text-shadow:0.5px 0.6px 0 #e39a1c;">$</div>
<h2 class="t" style="left:518.20px;top:470.06px;font-size:15px;line-height:14.87px;text-align:center;color:#fff;transform:translateX(-50%) scaleX(1.0644);transform-origin:50% 0;font-weight:700;">3. Reduced<br>Loan-to-Value (LTV)<br><span style="letter-spacing:0.131px">limit for HDB-</span><br><span style="letter-spacing:0.078px">granted loans from</span></h2>
<div class="t" style="left:519.30px;top:531.75px;font-size:21.5px;line-height:24px;text-align:center;color:#fff;transform:translateX(-50%) scaleX(1.1540);transform-origin:50% 0;font-weight:700;-webkit-text-stroke:0.5px #fff;">90% <span class="to">to</span> 85%</div>
<p class="t" style="left:467.60px;top:579.77px;font-size:11.4px;line-height:14.75px;text-align:center;color:#fff;transform:translateX(-50%) scaleX(1.2453);transform-origin:50% 0;-webkit-text-stroke:0.2px #fff;"><span style="letter-spacing:0.214px">Reduces the maximum amount</span><br><span style="letter-spacing:0.174px">potential homebuyers can</span><br><span style="letter-spacing:0.200px">borrow from HDB.</span><br>&nbsp;<br><span style="letter-spacing:0.155px">LTV limit for loans obtained from</span><br><span style="letter-spacing:0.234px">financial institutions to purchase</span><br>HDB flats remains unchanged at 75%.</p>
</section>
<section class="note">
<div class="b" style="left:36.7px;top:706.7px;width:569.3px;height:69.1px;background:#97cc82;"></div>
<p class="t" style="left:48.40px;top:710.50px;font-size:11.9px;line-height:14.75px;color:#1c4220;transform:scaleX(1.2160);transform-origin:0 0;-webkit-text-stroke:0.3px #1c4220;">The Government remains vigilant to the risk of a sustained increase in housing prices<br>relative to income trends.</p>
<p class="t" style="left:48.40px;top:743.87px;font-size:11.9px;line-height:15px;color:#1c4220;transform:scaleX(1.2160);transform-origin:0 0;-webkit-text-stroke:0.3px #1c4220;">The measures undertaken in this cooling package seek to promote a stable and<br><span style="letter-spacing:0.063px">sustainable property market.</span></p>
</section>
<section class="footnotes">
<p class="t" style="left:38.60px;top:782.48px;font-size:9px;line-height:10.6px;color:#2a2a2e;transform:scaleX(1.2038);transform-origin:0 0;-webkit-text-stroke:0.25px #2a2a2e;"><sup>1</sup> As entities, Housing Developers will also be subject to the ABSD rate for entities. Housing Developers may apply for<br><span style="letter-spacing:0.011px">remission of this ABSD, subject to conditions.</span></p>
<p class="t" style="left:38.60px;top:808.93px;font-size:9px;line-height:10.5px;color:#2a2a2e;transform:scaleX(1.2145);transform-origin:0 0;-webkit-text-stroke:0.25px #2a2a2e;"><sup>2</sup> Housing Developers refer to entities in the business of housing development (i.e. construction and sale of housing<br><span style="letter-spacing:0.058px">units) with respect to the subject property acquired.</span></p>
<p class="t" style="left:38.60px;top:833.88px;font-size:9px;line-height:10.4px;color:#2a2a2e;transform:scaleX(1.1950);transform-origin:0 0;-webkit-text-stroke:0.25px #2a2a2e;"><sup>3</sup> This 5% ABSD for Housing Developers is in addition to the ABSD for all entities. This 5% will not be remitted, and is<br><span style="letter-spacing:0.125px">to be paid upfront upon purchase of residential property.</span></p>
</section>
</main>
<footer>
<div class="b" style="left:6.5px;top:860px;width:626.7px;height:32.5px;background:#66c7d7;box-shadow:inset 0 -1px 0 rgba(60,130,150,.4);"></div>
<div class="t" style="left:357.00px;top:869.04px;font-size:10.7px;line-height:12px;color:#15305e;transform:scaleX(1.0826);transform-origin:0 0;font-weight:700;">Find out more at go.gov.sg/coolingmeasures</div>
<div class="t wm" style="left:489.50px;top:872.65px;font-size:16px;line-height:18px;color:#fff;transform:scaleX(1.0602);transform-origin:0 0;font-family:'Liberation Sans', 'Noto Sans CJK SC', sans-serif;text-shadow:1px 1px 1px rgba(0,0,0,.85),0 0 2px rgba(0,0,0,.6);">头条 @潼菲inAsia</div>
</footer>
</div>
</body>
</html>
